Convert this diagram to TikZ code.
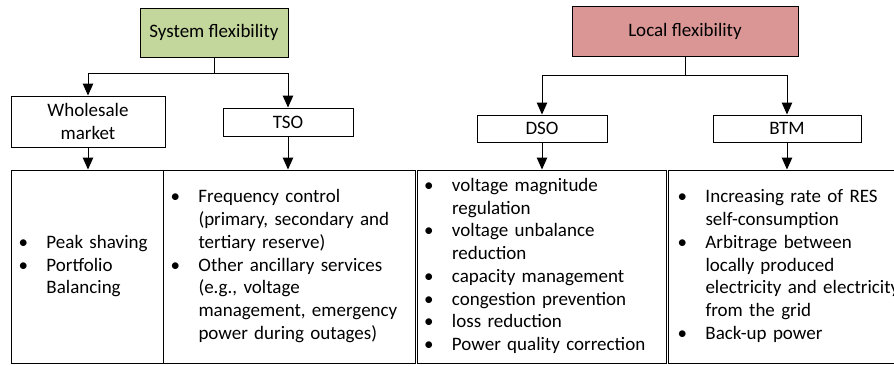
\documentclass[tikz,border=0pt]{standalone}
\usepackage{fontspec}
\setmainfont{Carlito}
\usetikzlibrary{arrows.meta}
\definecolor{sysgreen}{HTML}{C3D69B}
\definecolor{locred}{HTML}{D99694}

\begin{document}
\begin{tikzpicture}[x=1pt, y=-1pt, line width=1pt, >={Triangle[length=12pt, width=10.5pt]},
  font=\fontsize{19}{22.7}\selectfont,
  flexbox/.style={draw, inner sep=0pt, minimum height=49pt},
  actorbox/.style={draw, inner sep=0pt, minimum height=27pt, align=center},
  taskbox/.style={draw, inner ysep=0pt, inner xsep=7pt, minimum height=193pt, text width=#1, anchor=north west}]
\useasboundingbox (0, 0) rectangle (894, 365);

% top level
\node[flexbox, fill=sysgreen, minimum width=148pt] (sys) at (214, 32.5) {System flexibility};
\node[flexbox, fill=locred, minimum width=226pt, minimum height=50pt] (loc) at (685, 31) {Local flexibility};

% actors
\node[actorbox, minimum width=154pt, minimum height=51pt] (ws) at (88, 121.5) {Wholesale\\market};
\node[actorbox, minimum width=130pt, minimum height=28pt] (tso) at (288, 122) {TSO};
\node[actorbox, minimum width=130pt] (dso) at (542, 128.5) {DSO};
\node[actorbox, minimum width=148pt] (btm) at (787, 128.5) {BTM};

% services per actor
\node[taskbox=138pt] (svc1) at (11, 169.5) {\begin{tabular}{@{}p{28pt}@{}l@{}}
\textbullet & Peak shaving\\
\textbullet & Portfolio\\
 & Balancing
\end{tabular}};
\node[taskbox=237.5pt] (svc2) at (163, 169.5) {\begin{tabular}{@{}p{28pt}@{}l@{}}
\textbullet & Frequency control\\
 & (primary, secondary and\\
 & tertiary reserve)\\
\textbullet & Other ancillary services\\
 & (e.g., voltage\\
 & management, emergency\\
 & power during outages)
\end{tabular}};
\node[taskbox=235.5pt] (svc3) at (416.5, 169.5) {\begin{tabular}{@{}p{28pt}@{}l@{}}
\textbullet & voltage magnitude\\
 & regulation\\
\textbullet & voltage unbalance\\
 & reduction\\
\textbullet & capacity management\\
\textbullet & congestion prevention\\
\textbullet & loss reduction\\
\textbullet & Power quality correction
\end{tabular}};
\node[taskbox=262pt, inner xsep=9pt] (svc4) at (668, 169.5) {\begin{tabular}{@{}p{28pt}@{}l@{}}
\textbullet & Increasing rate of RES\\
 & self-consumption\\
\textbullet & Arbitrage between\\
 & locally produced\\
 & electricity and electricity\\
 & from the grid\\
\textbullet & Back-up power
\end{tabular}};

% connectors
\draw (sys.south) -- ++(0, 16) coordinate (sysj);
\draw[->] (sysj) -| (ws.north);
\draw[->] (sysj) -| (tso.north);
\draw (loc.south) -- ++(0, 19) coordinate (locj);
\draw[->] (locj) -| (dso.north);
\draw[->] (locj) -| (btm.north);
\path[->] (ws) edge (ws.south |- svc1.north);
\path[->] (tso) edge (tso.south |- svc2.north);
\path[->] (dso) edge (dso.south |- svc3.north);
\path[->] (btm) edge (btm.south |- svc4.north);
\end{tikzpicture}
\end{document}
